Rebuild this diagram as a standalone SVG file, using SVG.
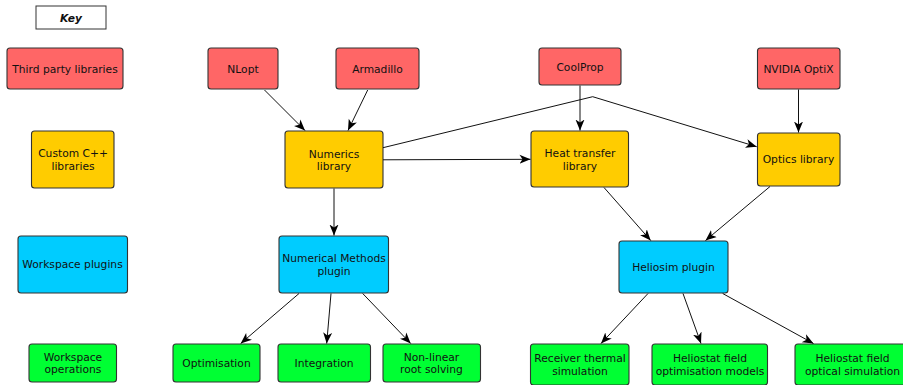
<svg xmlns="http://www.w3.org/2000/svg" width="903" height="385" viewBox="0 0 903 385">
<defs>
<style>
.n rect{stroke:#333;stroke-width:1.1}
.tp rect{fill:#ff6666}
.cl rect{fill:#ffcc00}
.wp rect{fill:#00ccff}
.wo rect{fill:#00ff33}
text{font-family:"DejaVu Sans",sans-serif;font-size:10.7px;fill:#111;text-anchor:middle}
.c path,.c line,.c polyline{stroke:#111;stroke-width:1;fill:none;marker-end:url(#ah)}
</style>
<marker id="ah" markerUnits="userSpaceOnUse" markerWidth="12" markerHeight="10" refX="11" refY="4.5" orient="auto" viewBox="0 0 12 9">
<path d="M0,0 L11,4.5 L0,9 L3,4.5 z" fill="#000"/>
</marker>
</defs>
<rect width="903" height="385" fill="#fff"/>

<g id="key">
<rect x="36" y="6" width="70" height="23" fill="#fff" stroke="#333" stroke-width="1"/>
<text x="71" y="22" style="font-weight:bold;font-style:italic">Key</text>
</g>

<g id="key-third" class="n tp"><rect x="7" y="48" width="116" height="41" rx="3"/><text x="65" y="73">Third party libraries</text></g>
<g id="nlopt" class="n tp"><rect x="208" y="48" width="70" height="41" rx="3"/><text x="243" y="73">NLopt</text></g>
<g id="armadillo" class="n tp"><rect x="336" y="48" width="83" height="41" rx="3"/><text x="377.5" y="73">Armadillo</text></g>
<g id="coolprop" class="n tp"><rect x="539" y="48" width="82" height="37" rx="3"/><text x="580" y="70.5">CoolProp</text></g>
<g id="optix" class="n tp"><rect x="757.5" y="48" width="82.5" height="41" rx="3"/><text x="798.5" y="73">NVIDIA OptiX</text></g>

<g id="key-custom" class="n cl"><rect x="31.5" y="131" width="82.5" height="57" rx="3"/><text x="73" y="157">Custom C++</text><text x="73" y="170">libraries</text></g>
<g id="numerics" class="n cl"><rect x="285" y="131" width="98" height="57" rx="3"/><text x="334" y="157.5">Numerics</text><text x="334" y="170">library</text></g>
<g id="heat" class="n cl"><rect x="531" y="131" width="97.5" height="56" rx="3"/><text x="580" y="157">Heat transfer</text><text x="580" y="169.5">library</text></g>
<g id="optics" class="n cl"><rect x="757.5" y="133" width="82.5" height="53" rx="3"/><text x="798.5" y="163">Optics library</text></g>

<g id="key-plugins" class="n wp"><rect x="18" y="236" width="109.5" height="57" rx="3"/><text x="72.5" y="268">Workspace plugins</text></g>
<g id="nummethods" class="n wp"><rect x="279" y="236" width="109.5" height="57" rx="3"/><text x="334" y="262">Numerical Methods</text><text x="334" y="274.5">plugin</text></g>
<g id="heliosim" class="n wp"><rect x="619" y="241" width="109" height="52" rx="3"/><text x="673.5" y="270.5">Heliosim plugin</text></g>

<g id="key-ops" class="n wo"><rect x="29" y="344" width="87.5" height="38" rx="3"/><text x="73" y="360.5">Workspace</text><text x="73" y="373">operations</text></g>
<g id="optimisation" class="n wo"><rect x="173" y="344" width="87" height="38" rx="3"/><text x="216.5" y="366.5">Optimisation</text></g>
<g id="integration" class="n wo"><rect x="278" y="344" width="92.5" height="38" rx="3"/><text x="324" y="366.5">Integration</text></g>
<g id="nonlinear" class="n wo"><rect x="383" y="344" width="97.5" height="38" rx="3"/><text x="431.5" y="360.5">Non-linear</text><text x="431.5" y="373">root solving</text></g>
<g id="receiver" class="n wo"><rect x="530.5" y="344" width="98.5" height="41" rx="3"/><text x="580" y="361.5">Receiver thermal</text><text x="580" y="374.5">simulation</text></g>
<g id="hfopt" class="n wo"><rect x="652" y="344" width="115.5" height="41" rx="3"/><text x="710" y="361.5">Heliostat field</text><text x="710" y="374.5">optimisation models</text></g>
<g id="hfoptical" class="n wo"><rect x="795" y="344" width="116" height="41" rx="3"/><text x="852.5" y="361.5">Heliostat field</text><text x="852.5" y="374.5">optical simulation</text></g>

<g id="connectors" class="c">
<line x1="264.5" y1="90" x2="305" y2="130.5"/>
<line x1="367.7" y1="90" x2="348" y2="130.5"/>
<line x1="580" y1="85.5" x2="580" y2="130.5"/>
<line x1="798.5" y1="89.5" x2="798.5" y2="132.5"/>
<polyline points="383,147.7 592.7,96.7 756.7,146.7"/>
<line x1="383" y1="159.8" x2="530.5" y2="159.3"/>
<line x1="334" y1="188.5" x2="334" y2="235.5"/>
<line x1="604" y1="187.5" x2="650.7" y2="240.5"/>
<line x1="770" y1="186.5" x2="705.5" y2="240.5"/>
<line x1="299" y1="293.5" x2="240.7" y2="343.5"/>
<line x1="331" y1="293.5" x2="326.7" y2="343.5"/>
<line x1="362.7" y1="293.5" x2="410.7" y2="343.5"/>
<line x1="648" y1="293.5" x2="601" y2="343.5"/>
<line x1="683" y1="293.5" x2="701" y2="343.5"/>
<line x1="722.7" y1="293.5" x2="813.5" y2="343.5"/>
</g>
</svg>
